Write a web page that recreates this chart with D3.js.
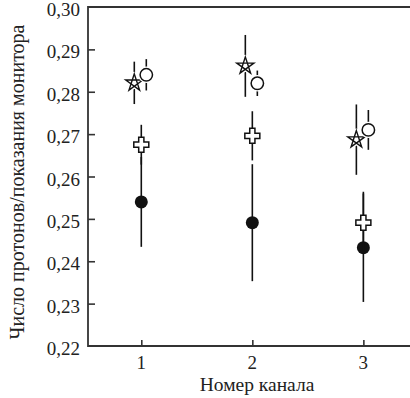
<!DOCTYPE html>
<html>
<head>
<meta charset="utf-8">
<script src="https://cdn.jsdelivr.net/npm/d3@7/dist/d3.min.js"></script>
<style>
  body { margin: 0; background: #fff; }
  svg text { font-family: "Liberation Serif", "DejaVu Serif", serif; fill: #222; }
</style>
</head>
<body>
<svg id="chart" width="410" height="398"></svg>
<script>
// данные
var channels = [1, 2, 3];
var yTicks = [0.22, 0.23, 0.24, 0.25, 0.26, 0.27, 0.28, 0.29, 0.30];

var filledVal = [0.2540, 0.2491, 0.2432];
var filledErr = [0.0106, 0.0138, 0.0128];
var crossVal  = [0.2675, 0.2696, 0.2491];
var crossErr  = [0.0047, 0.0058, 0.0073];
var starVal   = [0.2821, 0.2861, 0.2687];
var starErr   = [0.0050, 0.0073, 0.0083];
var openVal   = [0.2840, 0.2820, 0.2710];
var openErr   = [0.0037, 0.0030, 0.0047];

var svg = d3.select("#chart");
var mLeft = 88, mRight = 410, mTop = 7, mBottom = 346;

var x = d3.scaleLinear().domain([0.52, 3.42]).range([mLeft, mRight]);
var y = d3.scaleLinear().domain([0.22, 0.30]).range([mBottom, mTop]);

var fmt = function(d){ return d3.format(".2f")(d).replace(".", ","); };

// рамка: слева, сверху, снизу
svg.append("path")
    .attr("d", "M" + mRight + "," + mTop + " L" + mLeft + "," + mTop + " L" + mLeft + "," + mBottom + " L" + mRight + "," + mBottom)
    .attr("fill", "none").attr("stroke", "#333").attr("stroke-width", 1.8);

// ось Y
var yAxis = svg.append("g").attr("transform", "translate(" + mLeft + ",0)")
    .call(d3.axisRight(y).tickValues(yTicks.slice(1, -1)).tickSize(7).tickFormat(""));
yAxis.select(".domain").remove();
yAxis.selectAll("line").attr("stroke", "#333").attr("stroke-width", 1.6);

svg.selectAll(".ylbl").data(yTicks).enter().append("text")
    .attr("class", "ylbl")
    .attr("x", mLeft - 8).attr("y", function(d){ return y(d) + 9; })
    .attr("text-anchor", "end").attr("font-size", 19)
    .text(fmt);

// ось X
var xAxis = svg.append("g").attr("transform", "translate(0," + mBottom + ")")
    .call(d3.axisTop(x).tickValues(channels).tickSize(6).tickFormat(""));
xAxis.select(".domain").remove();
xAxis.selectAll("line").attr("stroke", "#333").attr("stroke-width", 1.6);

svg.selectAll(".xlbl").data(channels).enter().append("text")
    .attr("class", "xlbl")
    .attr("x", function(d){ return x(d); }).attr("y", 369)
    .attr("text-anchor", "middle").attr("font-size", 19)
    .text(function(d){ return d; });

svg.append("text")
    .attr("x", 257).attr("y", 391)
    .attr("text-anchor", "middle").attr("font-size", 19.5)
    .text("Номер канала");

svg.append("text")
    .attr("transform", "translate(24,182) rotate(-90)")
    .attr("text-anchor", "middle").attr("font-size", 20)
    .text("Число протонов/показания монитора");

// маркеры
function starPath(R) {
    var p = [];
    for (var k = 0; k < 5; k++) {
        var a = -Math.PI / 2 + k * 4 * Math.PI / 5;
        p.push([R * Math.cos(a), R * Math.sin(a)]);
    }
    return "M" + p.map(function(q){ return q[0].toFixed(2) + "," + q[1].toFixed(2); }).join(" L") + " Z";
}
function crossPath(s, w) {
    return "M" + (-w) + "," + (-s) + " L" + w + "," + (-s) + " L" + w + "," + (-w) + " L" + s + "," + (-w) +
        " L" + s + "," + w + " L" + w + "," + w + " L" + w + "," + s + " L" + (-w) + "," + s +
        " L" + (-w) + "," + w + " L" + (-s) + "," + w + " L" + (-s) + "," + (-w) + " L" + (-w) + "," + (-w) + " Z";
}

var series = [
    {vals: filledVal, errs: filledErr, dx: 0,  shape: "filled"},
    {vals: crossVal,  errs: crossErr,  dx: 0,  shape: "cross"},
    {vals: starVal,   errs: starErr,   dx: -7, shape: "star"},
    {vals: openVal,   errs: openErr,   dx: 5,  shape: "open"}
];

series.forEach(function(s){
    var g = svg.append("g");
    var pts = channels.map(function(c, i){ return {c: c, v: s.vals[i], e: s.errs[i]}; });

    g.selectAll("line").data(pts).enter().append("line")
        .attr("x1", function(d){ return x(d.c) + s.dx; })
        .attr("x2", function(d){ return x(d.c) + s.dx; })
        .attr("y1", function(d){ return y(d.v + d.e); })
        .attr("y2", function(d){ return y(d.v - d.e); })
        .attr("stroke", "#111").attr("stroke-width", 1.6);

    var m = g.selectAll(".m").data(pts).enter().append("g")
        .attr("transform", function(d){ return "translate(" + (x(d.c) + s.dx) + "," + y(d.v) + ")"; });

    if (s.shape === "filled") {
        m.append("circle").attr("r", 6.5).attr("fill", "#111").attr("stroke", "none");
    } else if (s.shape === "open") {
        m.append("circle").attr("r", 6.2).attr("fill", "none").attr("stroke", "#fff").attr("stroke-width", 4);
        m.append("circle").attr("r", 6.2).attr("fill", "#fff").attr("stroke", "#111").attr("stroke-width", 1.5);
    } else if (s.shape === "cross") {
        m.append("path").attr("d", crossPath(7.5, 2.6)).attr("fill", "#fff")
            .attr("stroke", "#111").attr("stroke-width", 1.5);
    } else {
        m.append("path").attr("d", starPath(9)).attr("fill", "none")
            .attr("stroke", "#fff").attr("stroke-width", 4).attr("stroke-linejoin", "round");
        m.append("path").attr("d", starPath(9)).attr("fill", "#fff").attr("fill-rule", "nonzero")
            .attr("stroke", "#111").attr("stroke-width", 1.4).attr("stroke-linejoin", "miter");
    }
});
</script>
</body>
</html>
